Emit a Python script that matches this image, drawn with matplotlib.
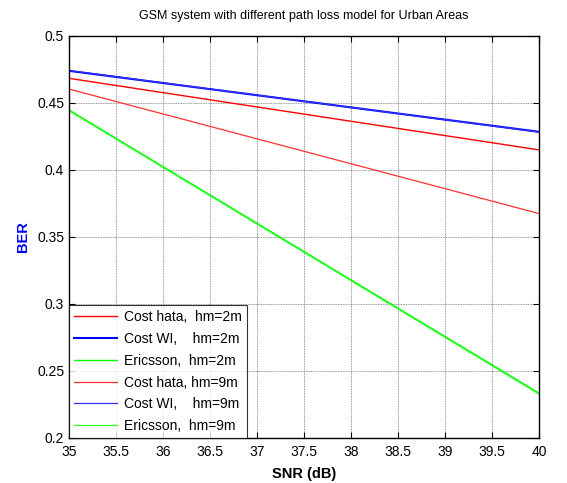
import numpy as np
import matplotlib
matplotlib.use("Agg")
from matplotlib import pyplot as plt

plt.rcParams['font.family'] = ['Liberation Sans', 'DejaVu Sans']

snr = [35, 40]
hata_2m = [0.4684, 0.4150]
wi_2m = [0.4740, 0.4285]
eric_2m = [0.4448, 0.2335]
hata_9m = [0.4604, 0.3675]
wi_9m = [0.4742, 0.4283]
eric_9m = [0.4442, 0.2328]

fig = plt.figure(figsize=(5.67, 4.83), dpi=100)
ax = fig.add_axes([0.1217, 0.0932, 0.8289, 0.8323])

ax.plot(snr, hata_2m, color='#ff0000', lw=1.0, label='Cost hata,  hm=2m')
ax.plot(snr, wi_2m, color='#0000ff', lw=1.5, label='Cost WI,    hm=2m')
ax.plot(snr, eric_2m, color='#00ff00', lw=1.0, label='Ericsson,  hm=2m')
ax.plot(snr, hata_9m, color='#ff3030', lw=0.9, label='Cost hata, hm=9m')
ax.plot(snr, wi_9m, color='#3030ff', lw=0.9, label='Cost WI,    hm=9m')
ax.plot(snr, eric_9m, color='#30ff30', lw=0.9, label='Ericsson,  hm=9m')

ax.set_xlim(35, 40)
ax.set_ylim(0.2, 0.5)
ax.set_xticks(np.arange(35, 40.01, 0.5))
ax.set_yticks(np.arange(0.2, 0.501, 0.05))
ax.set_xticklabels(['%g' % v for v in np.arange(35, 40.01, 0.5)])
ax.set_yticklabels(['%g' % round(v, 2) for v in np.arange(0.2, 0.501, 0.05)])
ax.tick_params(direction='in', labelsize=10, length=4, width=0.8)
ax.tick_params(axis='x', pad=5)
ax.tick_params(top=True, right=True)
ax.grid(True, color='0.45', linestyle=(0, (1, 1)), linewidth=0.6)
for s in ax.spines.values():
    s.set_linewidth(1.0)

ax.set_title('GSM system with different path loss model for Urban Areas', fontsize=9, pad=12)
ax.set_xlabel('SNR (dB)', fontsize=10.5, fontweight='bold', labelpad=6)
ax.set_ylabel('BER', fontsize=10.5, fontweight='bold', color='blue', labelpad=5)

leg = ax.legend(loc='lower left', fontsize=10, frameon=True, fancybox=False,
                borderaxespad=0, handlelength=3.1, labelspacing=0.56, borderpad=0.35,
                handletextpad=0.5)
leg.get_frame().set_edgecolor('black')
leg.get_frame().set_linewidth(0.8)

fig.savefig('out.png', dpi=100)
